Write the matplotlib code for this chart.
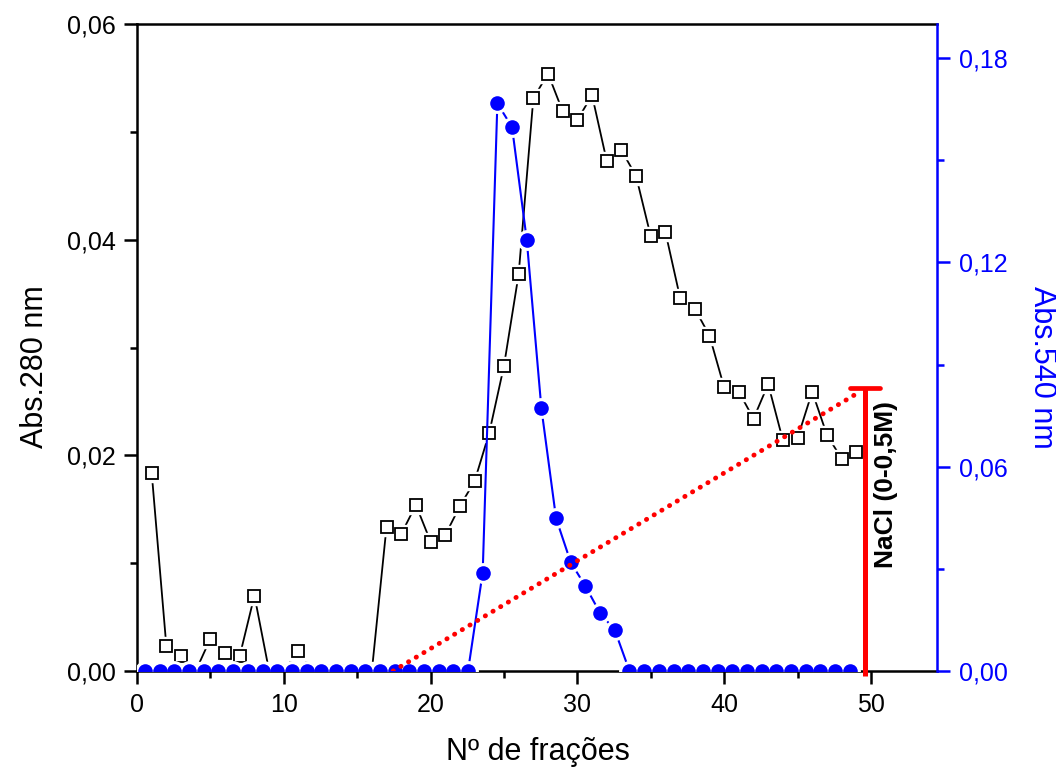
import numpy as np
import matplotlib
matplotlib.use('Agg')
import matplotlib.pyplot as plt
from matplotlib.ticker import MultipleLocator, FuncFormatter

plt.rcParams['font.family'] = ['Liberation Sans', 'DejaVu Sans']

# Abs. 280 nm (left axis), fractions 1..49
frac = np.arange(1, 50)
abs280 = [0.0184, 0.0023, 0.0014, 0.0, 0.0030, 0.0017, 0.0014, 0.0070, 0.0, 0.0,
          0.0019, 0.0, 0.0, 0.0, 0.0, 0.0, 0.0134, 0.0127, 0.0154, 0.0120,
          0.0126, 0.0153, 0.0176, 0.0221, 0.0283, 0.0368, 0.0531, 0.0554, 0.0519, 0.0511,
          0.0534, 0.0473, 0.0483, 0.0459, 0.0403, 0.0407, 0.0346, 0.0336, 0.0311, 0.0263,
          0.0259, 0.0234, 0.0266, 0.0214, 0.0216, 0.0259, 0.0219, 0.0197, 0.0203]

# Abs. 540 nm (right axis), plotted half a fraction earlier
frac540 = np.arange(49) + 0.55
abs540 = [0.0] * 23 + [0.0289, 0.1667, 0.1597, 0.1267, 0.0771, 0.0448,
                       0.0319, 0.0249, 0.0170, 0.0120] + [0.0] * 16

# NaCl gradient (left axis units)
grad_x = [17.45, 49.25]
grad_y = [0.0, 0.0259]
bar_x = 49.6
bar_bottom = -0.0005
bar_top = 0.0262
bar_half = 1.0

blue = '#0000ff'
fmt = FuncFormatter(lambda v, p: f'{v:.2f}'.replace('.', ','))

fig = plt.figure(figsize=(10.56, 7.73), dpi=100)
ax = fig.add_axes([137 / 1056, 1 - 671 / 773, 800 / 1056, 647 / 773])
ax2 = ax.twinx()

# black series: line, white halo, open squares
ax.plot(frac, abs280, color='black', lw=1.3, zorder=2)
ax.plot(frac, abs280, ls='none', marker='s', ms=13, mfc='white', mec='white', zorder=3)
ax.plot(frac, abs280, ls='none', marker='s', ms=9, mfc='white', mec='black',
        mew=1.3, zorder=4)

# blue series
ax2.plot(frac540, abs540, color=blue, lw=1.5, zorder=2)
ax2.plot(frac540, abs540, ls='none', marker='o', ms=14, mfc='white', mec='white', zorder=3)
ax2.plot(frac540, abs540, ls='none', marker='o', ms=10.5, mfc=blue, mec=blue,
         mew=0, zorder=4)

# gradient, drawn on top
ax2.plot(grad_x, grad_y, transform=ax.transData, color='red', lw=3.5,
         ls=(0, (0.05, 1.79)), dash_capstyle='round', zorder=6)
ax2.plot([bar_x, bar_x], [bar_bottom, bar_top], transform=ax.transData, color='red',
         lw=3.6, solid_capstyle='butt', clip_on=False, zorder=6)
ax2.plot([bar_x - bar_half, bar_x + bar_half], [bar_top, bar_top], transform=ax.transData,
         color='red', lw=3.4, solid_capstyle='round', zorder=6)
fig.text(886 / 1056, 1 - 485 / 773, 'NaCl (0-0,5M)', rotation=90, ha='center',
         va='center', fontsize=19, fontweight='bold', color='black', zorder=7)

ax.set_xlim(0, 54.5)
ax.set_ylim(0, 0.06)
ax2.set_ylim(0, 0.19)

ax.xaxis.set_major_locator(MultipleLocator(10))
ax.xaxis.set_minor_locator(MultipleLocator(5))
ax.yaxis.set_major_locator(MultipleLocator(0.02))
ax.yaxis.set_minor_locator(MultipleLocator(0.01))
ax.yaxis.set_major_formatter(fmt)
ax2.yaxis.set_major_locator(MultipleLocator(0.06))
ax2.yaxis.set_minor_locator(MultipleLocator(0.03))
ax2.yaxis.set_major_formatter(fmt)

for a in (ax, ax2):
    for s in a.spines.values():
        s.set_linewidth(1.8)
ax.spines['right'].set_visible(False)
for s in ('left', 'top', 'bottom'):
    ax2.spines[s].set_visible(False)
ax2.spines['right'].set_color(blue)

ax.tick_params(which='major', direction='out', length=9.5, width=1.8, labelsize=18, pad=6)
ax.tick_params(which='minor', direction='out', length=5, width=1.8)
ax.tick_params(axis='y', right=False, top=False)
ax2.tick_params(which='major', direction='out', length=9.5, width=1.8, labelsize=18,
                pad=6, colors=blue)
ax2.tick_params(which='minor', direction='out', length=5, width=1.8, colors=blue)

fig.text(35 / 1056, 1 - 367 / 773, 'Abs.280 nm', rotation=90, ha='center', va='center',
         fontsize=22)
fig.text(1042 / 1056, 1 - 367 / 773, 'Abs.540 nm', rotation=-90, ha='center', va='center',
         fontsize=22, color=blue)
fig.text(538 / 1056, 1 - 752 / 773, 'Nº de frações', ha='center', va='center', fontsize=22)

fig.savefig('out.png', dpi=100)
